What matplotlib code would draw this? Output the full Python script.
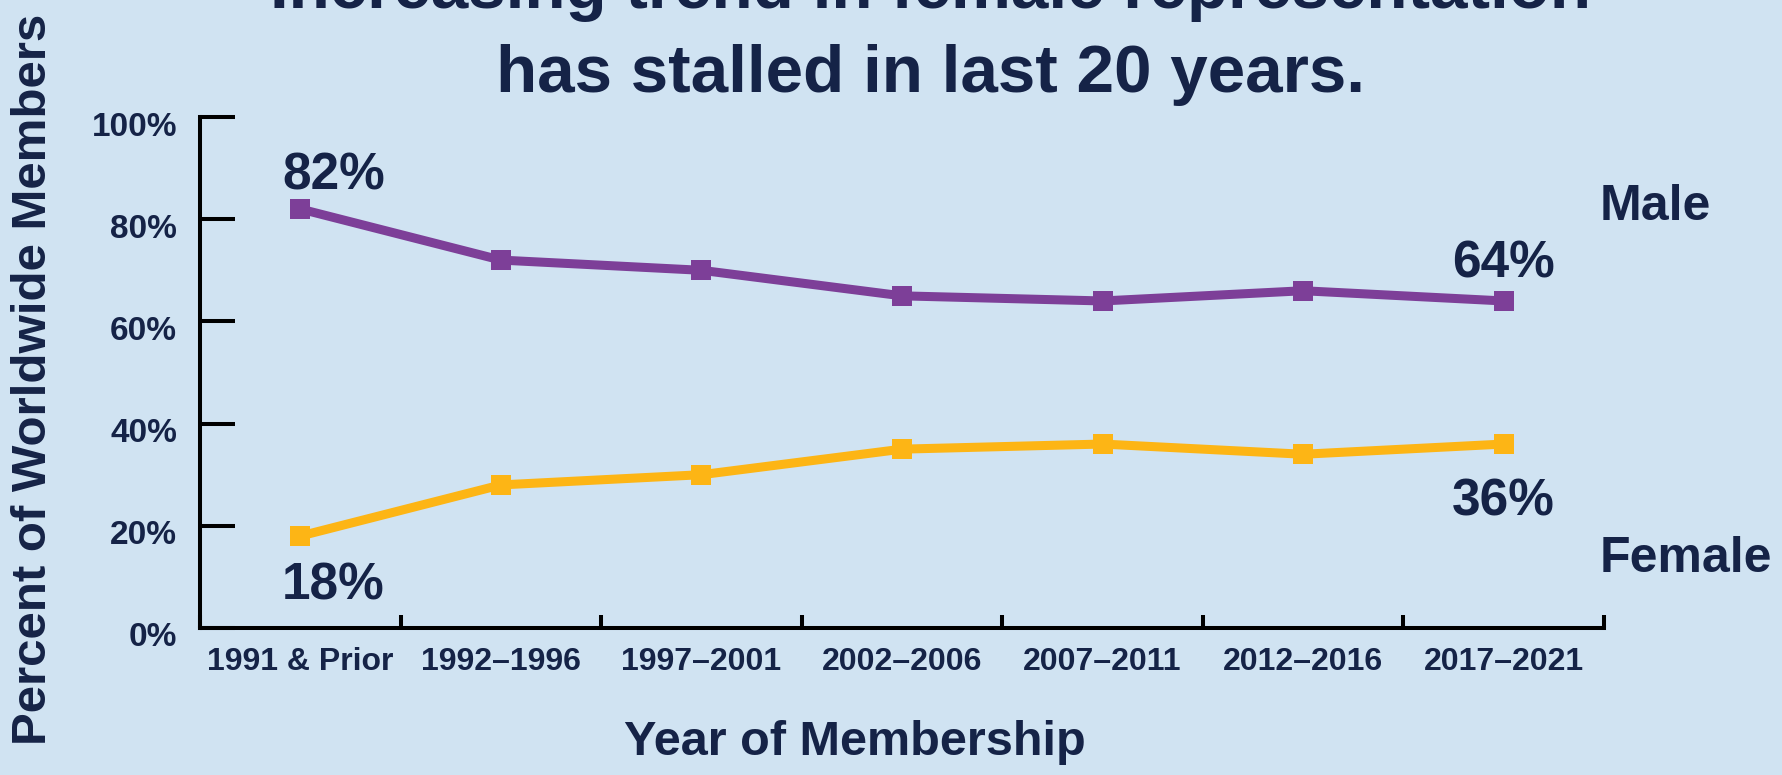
import numpy as np
from matplotlib import pyplot as plt
from matplotlib.transforms import ScaledTranslation

categories = ["1991 & Prior", "1992–1996", "1997–2001", "2002–2006",
              "2007–2011", "2012–2016", "2017–2021"]
male = [82, 72, 70, 65, 64, 66, 64]
female = [18, 28, 30, 35, 36, 34, 36]
yticks = [0, 20, 40, 60, 80, 100]

title1 = "Increasing trend in female representation"
title2 = "has stalled in last 20 years."

bg = "#D0E3F2"
navy = "#152347"
purple = "#7D3F98"
yellow = "#FDB515"

plt.rcParams['font.family'] = ['Liberation Sans', 'DejaVu Sans']
plt.rcParams['font.weight'] = 'bold'

fig = plt.figure(figsize=(17.82, 7.75), dpi=100, facecolor=bg)
ax = fig.add_axes([0.11223, 0.18968, 0.78788, 0.65935])
ax.set_facecolor(bg)

x = np.arange(len(categories))
ax.plot(x, male, color=purple, lw=6.5, marker='s', ms=14, mew=0, clip_on=False)
ax.plot(x, female, color=yellow, lw=6.5, marker='s', ms=14, mew=0, clip_on=False)

ax.set_xlim(-0.5, len(categories) - 0.5)
ax.set_ylim(0, 100)

for s in ["top", "right"]:
    ax.spines[s].set_visible(False)
for s in ["left", "bottom"]:
    ax.spines[s].set_linewidth(2.9)
    ax.spines[s].set_color("black")

ax.set_xticks(x)
ax.set_xticklabels(categories, fontsize=23, color=navy, fontweight='bold')
ax.set_xticks(np.arange(-0.5, len(categories), 1), minor=True)
ax.tick_params(axis='x', which='major', length=0, pad=14)
ax.tick_params(axis='x', which='minor', direction='in', length=9.4, width=2.9, color='black')

ax.set_yticks(yticks)
ax.set_yticklabels([str(v) + "%" for v in yticks], fontsize=24, color=navy, fontweight='bold')
ax.tick_params(axis='y', direction='in', length=25, width=2.9, color='black', pad=16.5)
shift = ScaledTranslation(0, -0.185, fig.dpi_scale_trans)
for lab in ax.get_yticklabels():
    lab.set_va('baseline')
    lab.set_transform(lab.get_transform() + shift)

# end labels
ax.annotate(str(male[0]) + "%", (x[0], male[0]), xytext=(23.8, 13.7), textcoords='offset points',
            ha='center', va='baseline', fontsize=37, color=navy, fontweight='bold')
ax.annotate(str(female[0]) + "%", (x[0], female[0]), xytext=(23.8, -18.7), textcoords='offset points',
            ha='center', va='top', fontsize=37, color=navy, fontweight='bold')
ax.annotate(str(male[-1]) + "%", (x[-1], male[-1]), xytext=(0, 17), textcoords='offset points',
            ha='center', va='baseline', fontsize=37, color=navy, fontweight='bold')
ax.annotate(str(female[-1]) + "%", (x[-1], female[-1]), xytext=(0, -23.8), textcoords='offset points',
            ha='center', va='top', fontsize=37, color=navy, fontweight='bold')

ax.text(0.997, 0.798, "Male", transform=ax.transAxes, ha='left', va='baseline',
        fontsize=36, color=navy, fontweight='bold')
ax.text(0.997, 0.110, "Female", transform=ax.transAxes, ha='left', va='baseline',
        fontsize=36, color=navy, fontweight='bold')

fig.text(0.480, 0.026, "Year of Membership", ha='center', va='baseline',
         fontsize=35, color=navy, fontweight='bold')
fig.text(0.019, 0.51, "Percent of Worldwide Members", rotation=90, ha='center', va='center',
         fontsize=35.5, color=navy, fontweight='bold')

fig.text(0.522, 0.990, title1, ha='center', va='baseline', fontsize=48.5, color=navy, fontweight='bold')
fig.text(0.522, 0.881, title2, ha='center', va='baseline', fontsize=48.5, color=navy, fontweight='bold')

plt.savefig("out.png", dpi=100, facecolor=bg)
